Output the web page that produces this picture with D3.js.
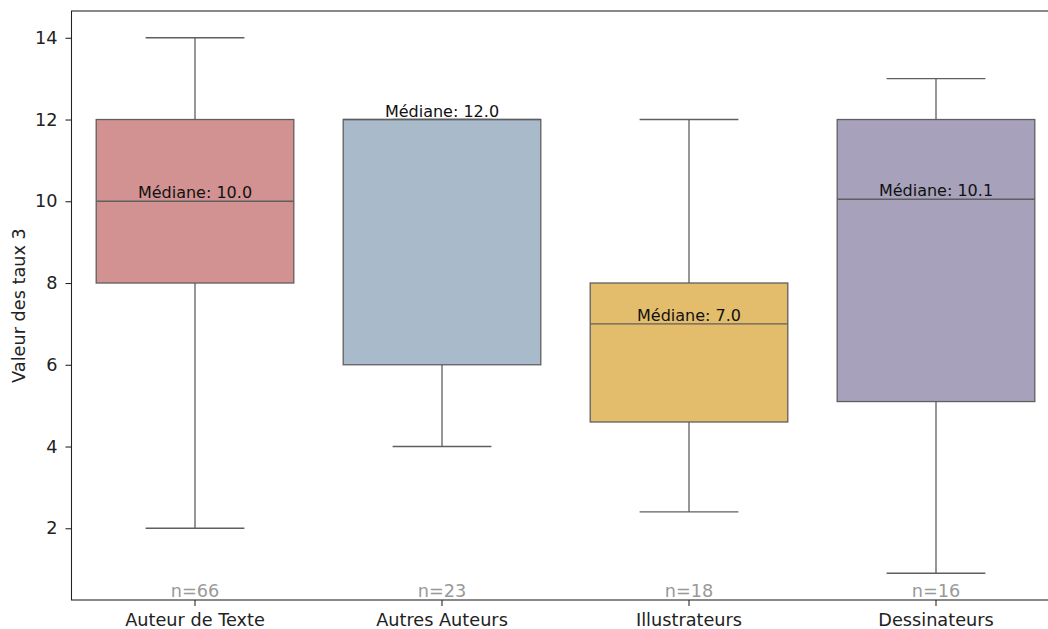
<!DOCTYPE html>
<html>
<head>
<meta charset="utf-8">
<script src="https://cdn.jsdelivr.net/npm/d3@7"></script>
<style>
  html, body { margin: 0; padding: 0; background: #fff; }
  svg { display: block; font-family: "DejaVu Sans", sans-serif; }
</style>
</head>
<body>
<svg id="chart" width="1048" height="629"></svg>
<script>
// Groupes et statistiques des boîtes
const categories = ["Auteur de Texte", "Autres Auteurs", "Illustrateurs", "Dessinateurs"];
const whiskerLow  = [2.0, 4.0, 2.4, 0.9];
const q1          = [8.0, 6.0, 4.6, 5.1];
const medians     = [10.0, 12.0, 7.0, 10.05];
const q3          = [12.0, 12.0, 8.0, 12.0];
const whiskerHigh = [14.0, 12.0, 12.0, 13.0];
const counts      = [66, 23, 18, 16];
const colors      = ["#d39292", "#a9bbca", "#e3bd6b", "#a7a1bc"];
const yTicks      = [2, 4, 6, 8, 10, 12, 14];

const svg = d3.select("#chart");
const mLeft = 71.5, mRight = 1059.5, mTop = 11, mBottom = 600;
const edge = "#5f5f5f";
const tickFont = "17.7px", medFont = "16px";

const x = d3.scaleBand().domain(categories).range([mLeft, mRight]).padding(0);
const y = d3.scaleLinear().domain([0.245, 14.655]).range([mBottom, mTop]);
const bw = x.bandwidth();

const rows = categories.map((c, i) => ({
  c, lo: whiskerLow[i], q1: q1[i], med: medians[i], q3: q3[i], hi: whiskerHigh[i],
  n: counts[i], color: colors[i]
}));

const g = svg.append("g");
const box = g.selectAll("g.box").data(rows).join("g").attr("class", "box");
const cx = d => x(d.c) + bw / 2;

// moustaches
box.append("line")
  .attr("x1", cx).attr("x2", cx)
  .attr("y1", d => y(d.q3)).attr("y2", d => y(d.hi))
  .attr("stroke", edge).attr("stroke-width", 1.3);
box.append("line")
  .attr("x1", cx).attr("x2", cx)
  .attr("y1", d => y(d.q1)).attr("y2", d => y(d.lo))
  .attr("stroke", edge).attr("stroke-width", 1.3);
// extrémités
["hi", "lo"].forEach(k => {
  box.append("line")
    .attr("x1", d => cx(d) - bw * 0.2).attr("x2", d => cx(d) + bw * 0.2)
    .attr("y1", d => y(d[k])).attr("y2", d => y(d[k]))
    .attr("stroke", edge).attr("stroke-width", 1.3);
});
// boîtes
box.append("rect")
  .attr("x", d => cx(d) - bw * 0.4)
  .attr("width", bw * 0.8)
  .attr("y", d => y(d.q3))
  .attr("height", d => y(d.q1) - y(d.q3))
  .attr("fill", d => d.color)
  .attr("stroke", edge).attr("stroke-width", 1.3);
// médianes
box.append("line")
  .attr("x1", d => cx(d) - bw * 0.4).attr("x2", d => cx(d) + bw * 0.4)
  .attr("y1", d => y(d.med)).attr("y2", d => y(d.med))
  .attr("stroke", edge).attr("stroke-width", 1.3);
box.append("text")
  .attr("x", cx).attr("y", d => y(d.med) - 3)
  .attr("text-anchor", "middle")
  .attr("font-size", medFont).attr("fill", "#111")
  .text(d => "Médiane: " + d.med.toFixed(1));
// effectifs
box.append("text")
  .attr("x", cx).attr("y", mBottom - 3)
  .attr("text-anchor", "middle")
  .attr("font-size", tickFont).attr("fill", "#999")
  .text(d => "n=" + d.n);

// axes
const yAxis = svg.append("g").attr("transform", `translate(${mLeft},0)`)
  .call(d3.axisLeft(y).tickValues(yTicks).tickSize(6).tickPadding(8).tickFormat(d3.format("d")));
const xAxis = svg.append("g").attr("transform", `translate(0,${mBottom})`)
  .call(d3.axisBottom(x).tickSize(6).tickPadding(7));
[yAxis, xAxis].forEach(a => {
  a.select(".domain").remove();
  a.selectAll("line").attr("stroke", "#222").attr("stroke-width", 1.07);
  a.selectAll("text").attr("font-size", tickFont).attr("fill", "#222")
    .attr("font-family", "DejaVu Sans, sans-serif");
});

// cadre
svg.append("rect")
  .attr("x", mLeft).attr("y", mTop)
  .attr("width", mRight - mLeft).attr("height", mBottom - mTop)
  .attr("fill", "none").attr("stroke", "#222").attr("stroke-width", 1.07);

// titre de l'axe vertical
svg.append("text")
  .attr("transform", `translate(25,${(mTop + mBottom) / 2}) rotate(-90)`)
  .attr("text-anchor", "middle")
  .attr("font-size", tickFont).attr("fill", "#222")
  .text("Valeur des taux 3");
</script>
</body>
</html>
